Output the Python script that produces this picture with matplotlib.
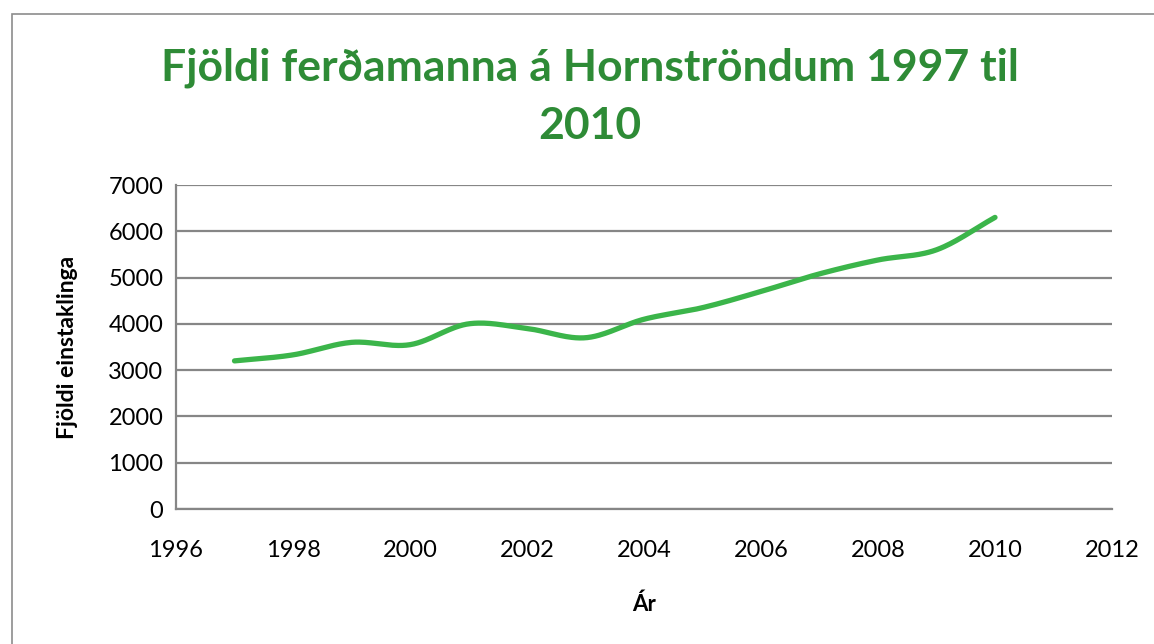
import numpy as np
import matplotlib.pyplot as plt
from matplotlib.patches import Rectangle

# data
years = [1997, 1998, 1999, 2000, 2001, 2002, 2003, 2004, 2005, 2006, 2007, 2008, 2009, 2010]
visitors = [3200, 3330, 3600, 3550, 4000, 3900, 3700, 4100, 4350, 4700, 5080, 5380, 5600, 6300]
xticks = [1996, 1998, 2000, 2002, 2004, 2006, 2008, 2010, 2012]
yticks = [0, 1000, 2000, 3000, 4000, 5000, 6000, 7000]

title = 'Fjöldi ferðamanna á Hornströndum 1997 til\n2010'
ylabel = 'Fjöldi einstaklinga'
xlabel = 'Ár'


def smooth(x, y, n=30):
    # catmull-rom spline through the points, like excel's smoothed line
    x = np.asarray(x, float)
    y = np.asarray(y, float)
    px = np.concatenate([[2 * x[0] - x[1]], x, [2 * x[-1] - x[-2]]])
    py = np.concatenate([[2 * y[0] - y[1]], y, [2 * y[-1] - y[-2]]])
    xs, ys = [], []
    t = np.linspace(0, 1, n, endpoint=False)
    for i in range(1, len(px) - 2):
        for p, out in ((px, xs), (py, ys)):
            p0, p1, p2, p3 = p[i - 1], p[i], p[i + 1], p[i + 2]
            out.extend(0.5 * (2 * p1 + (-p0 + p2) * t + (2 * p0 - 5 * p1 + 4 * p2 - p3) * t ** 2
                              + (-p0 + 3 * p1 - 3 * p2 + p3) * t ** 3))
    xs.append(x[-1])
    ys.append(y[-1])
    return np.array(xs), np.array(ys)


plt.rcParams['font.family'] = ['Lato', 'DejaVu Sans']

fig = plt.figure(figsize=(11.54, 6.44), dpi=100)
fig.patches.append(Rectangle((12 / 1154, -0.1), 1.2, (644 - 14) / 644 + 0.1,
                             transform=fig.transFigure, fill=False,
                             edgecolor='#8c8c8c', linewidth=1.2))

ax = fig.add_axes([176 / 1154, (644 - 509) / 644, 936 / 1154, 324 / 644])

sx, sy = smooth(years, visitors)
ax.plot(sx, sy, color='#3bb54a', linewidth=3.8, solid_capstyle='round', zorder=3)

ax.set_xlim(1996, 2012)
ax.set_ylim(0, 7000)
ax.set_xticks(xticks)
ax.set_yticks(yticks)
ax.tick_params(length=0, labelsize=17, pad=9)
ax.tick_params(axis='x', pad=22)
ax.grid(axis='y', color='#868686', linewidth=1.6)
ax.set_axisbelow(True)
for s in ['top', 'right']:
    ax.spines[s].set_visible(False)
for s in ['left', 'bottom']:
    ax.spines[s].set_color('#868686')
    ax.spines[s].set_linewidth(1.6)

ax.set_xlabel(xlabel, fontsize=16, fontweight='bold', labelpad=24)
ax.set_ylabel(ylabel, fontsize=16.5, fontweight='bold', labelpad=22)

fig.text(590 / 1154, 1 - 97 / 644, title, ha='center', va='center',
         fontsize=32, fontweight='bold', color='#2e8b36', linespacing=1.55)

fig.savefig('out.png', dpi=100)
